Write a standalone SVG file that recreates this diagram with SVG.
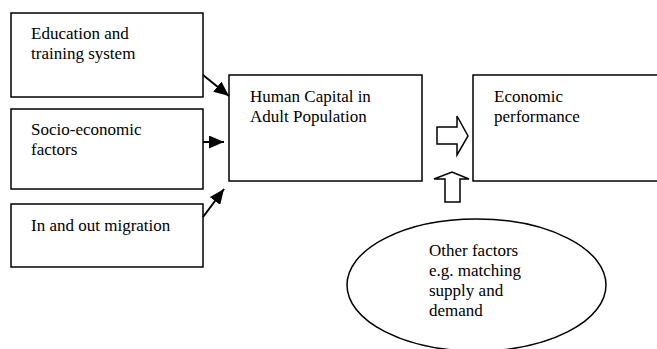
<svg xmlns="http://www.w3.org/2000/svg" width="657" height="349" viewBox="0 0 657 349">
<defs>
<style>
.box{fill:#fff;stroke:#000;stroke-width:1.5}
text{font-family:'Liberation Serif','Times New Roman',Times,serif;font-size:17px;fill:#000}
.ln{stroke:#000;stroke-width:2;fill:none}
.blk{fill:#fff;stroke:#000;stroke-width:1.5;stroke-linejoin:miter}
</style>
<marker id="ah" viewBox="0 0 15 13" refX="15" refY="6.5" markerWidth="15" markerHeight="13" markerUnits="userSpaceOnUse" orient="auto">
<path d="M0,0 L15,6.5 L0,13 Z" fill="#000"/>
</marker>
</defs>
<rect width="657" height="349" fill="#fff"/>
<g id="education">
<rect class="box" x="11" y="13" width="192" height="84"/>
<text x="31" y="39" font-family="Liberation Serif, serif">Education and</text>
<text x="31" y="59" font-family="Liberation Serif, serif">training system</text>
</g>
<g id="socio">
<rect class="box" x="11" y="109" width="192" height="80"/>
<text x="31" y="135" font-family="Liberation Serif, serif">Socio-economic</text>
<text x="31" y="155" font-family="Liberation Serif, serif">factors</text>
</g>
<g id="migration">
<rect class="box" x="11" y="204" width="192" height="63"/>
<text x="31" y="231" font-family="Liberation Serif, serif">In and out migration</text>
</g>
<g id="human">
<rect class="box" x="229" y="75" width="193" height="106"/>
<text x="250" y="102" font-family="Liberation Serif, serif">Human Capital in</text>
<text x="250" y="122" font-family="Liberation Serif, serif">Adult Population</text>
</g>
<g id="economic">
<rect class="box" x="473" y="75" width="200" height="106"/>
<text x="494" y="102" font-family="Liberation Serif, serif">Economic</text>
<text x="494" y="122" font-family="Liberation Serif, serif">performance</text>
</g>
<g id="other">
<ellipse class="box" cx="476.5" cy="285" rx="129.5" ry="66"/>
<text x="429" y="256" font-family="Liberation Serif, serif">Other factors</text>
<text x="429" y="276" font-family="Liberation Serif, serif">e.g. matching</text>
<text x="429" y="296" font-family="Liberation Serif, serif">supply and</text>
<text x="429" y="316" font-family="Liberation Serif, serif">demand</text>
</g>
<g id="connectors">
<line class="ln" x1="203" y1="75" x2="229" y2="96" marker-end="url(#ah)"/>
<line class="ln" x1="203" y1="142" x2="224" y2="142" marker-end="url(#ah)"/>
<line class="ln" x1="203" y1="217" x2="224" y2="189" marker-end="url(#ah)"/>
<path class="blk" d="M437,127 L457,127 L457,116 L468,136 L457,155 L457,144 L437,144 Z"/>
<path class="blk" d="M445,202 L445,179 L434,179 L452,172 L469,179 L460,179 L460,202 Z"/>
</g>
</svg>
